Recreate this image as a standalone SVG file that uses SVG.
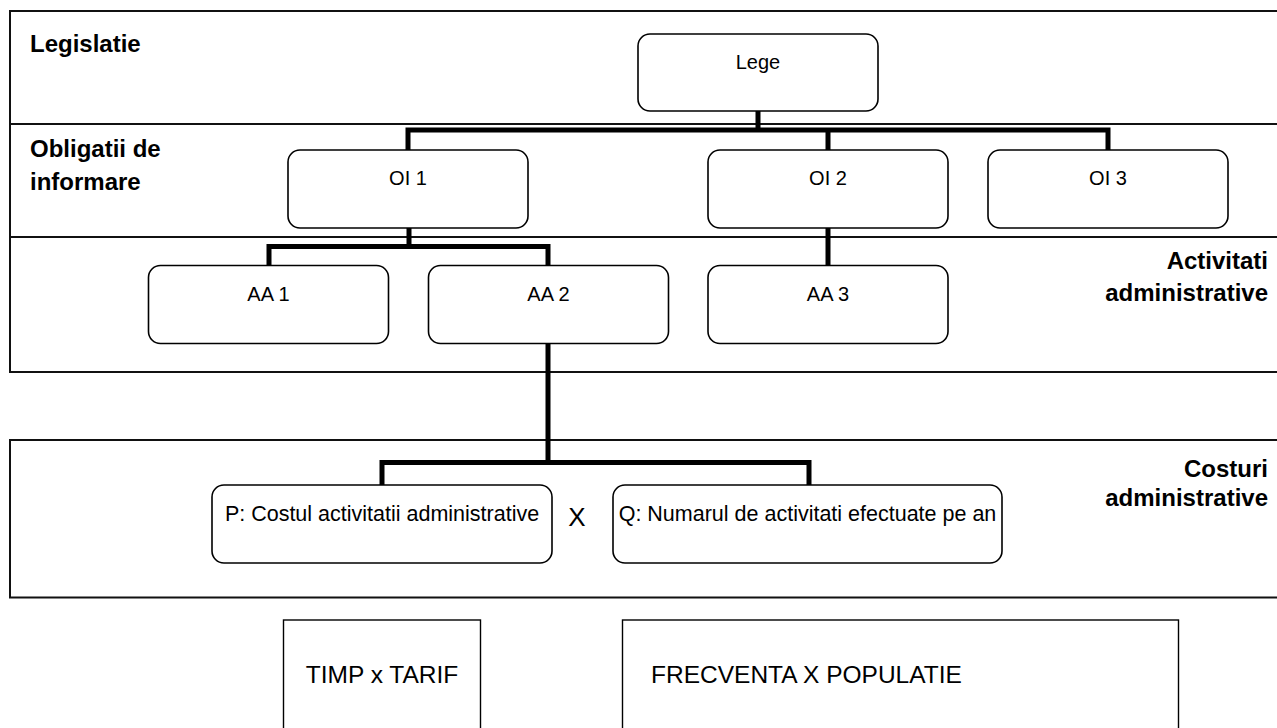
<svg xmlns="http://www.w3.org/2000/svg" width="1277" height="728" viewBox="0 0 1277 728">
<style>
.frame{fill:none;stroke:#111;stroke-width:2}
.box{fill:#fff;stroke:#000;stroke-width:1.6}
.sq{fill:#fff;stroke:#000;stroke-width:1.4}
.conn{fill:none;stroke:#000;stroke-width:5;stroke-linejoin:miter;stroke-linecap:butt}
.lbl{font-family:"Liberation Sans",Arial,sans-serif;font-size:20px;fill:#000;text-anchor:middle}
.pq{font-family:"Liberation Sans",Arial,sans-serif;font-size:21.5px;fill:#000}
.big{font-family:"Liberation Sans",Arial,sans-serif;font-size:24.5px;fill:#000}
.band{font-family:"Liberation Sans",Arial,sans-serif;font-size:24px;font-weight:bold;fill:#000}
.r{text-anchor:end}
</style>
<rect width="1277" height="728" fill="#fff"/>
<g id="bands">
<path class="frame" d="M1277,11 H10 V372 H1277 M10,124 H1277 M10,237 H1277"/>
<path class="frame" d="M1277,440 H10 V597.5 H1277"/>
<text class="band" x="30" y="52">Legislatie</text>
<text class="band" x="30" y="157">Obligatii de</text>
<text class="band" x="30" y="190">informare</text>
<text class="band r" x="1268" y="269">Activitati</text>
<text class="band r" x="1268" y="301">administrative</text>
<text class="band r" x="1268" y="477">Costuri</text>
<text class="band r" x="1268" y="506">administrative</text>
</g>
<g id="connectors">
<path class="conn" d="M758,111 V130 M408,150 V130 H1108 V150 M828,130 V150"/>
<path class="conn" d="M409,228 V246.5 M269,265 V246.5 H548 V265"/>
<path class="conn" d="M828,228 V265"/>
<path class="conn" d="M548,343 V462.5 M382,485 V462.5 H809 V485"/>
</g>
<g id="lege"><rect class="box" x="638" y="34" width="240" height="77" rx="12"/><text class="lbl" x="758" y="69">Lege</text></g>
<g id="oi1"><rect class="box" x="288" y="150" width="240" height="78" rx="12"/><text class="lbl" x="408" y="185">OI 1</text></g>
<g id="oi2"><rect class="box" x="708" y="150" width="240" height="78" rx="12"/><text class="lbl" x="828" y="185">OI 2</text></g>
<g id="oi3"><rect class="box" x="988" y="150" width="240" height="78" rx="12"/><text class="lbl" x="1108" y="185">OI 3</text></g>
<g id="aa1"><rect class="box" x="148.5" y="265.5" width="240" height="78" rx="12"/><text class="lbl" x="268.5" y="301">AA 1</text></g>
<g id="aa2"><rect class="box" x="428.5" y="265.5" width="240" height="78" rx="12"/><text class="lbl" x="548.5" y="301">AA 2</text></g>
<g id="aa3"><rect class="box" x="708" y="265.5" width="240" height="78" rx="12"/><text class="lbl" x="828" y="301">AA 3</text></g>
<g id="p"><rect class="box" x="212" y="485" width="340" height="78" rx="12"/><text class="pq" x="382" y="521" text-anchor="middle">P: Costul activitatii administrative</text></g>
<g id="times"><text x="577" y="526" text-anchor="middle" style="font-family:'Liberation Sans',Arial,sans-serif;font-size:26px">X</text></g>
<g id="q"><rect class="box" x="613" y="485" width="389" height="78" rx="12"/><text class="pq" x="807.5" y="521" text-anchor="middle">Q: Numarul de activitati efectuate pe an</text></g>
<g id="timp"><rect class="sq" x="283.5" y="620" width="197" height="120"/><text class="big" x="382" y="683" text-anchor="middle">TIMP x TARIF</text></g>
<g id="frecventa"><rect class="sq" x="622.5" y="620" width="556" height="120"/><text class="big" x="651" y="683">FRECVENTA X POPULATIE</text></g>
</svg>
